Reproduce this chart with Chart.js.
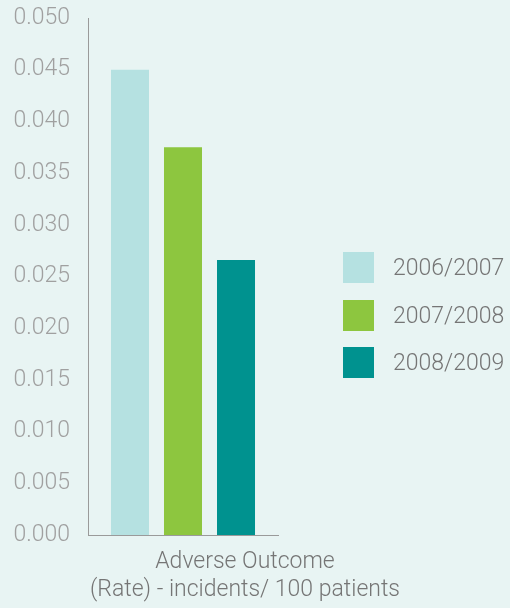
<!DOCTYPE html>
<html>
<head>
<meta charset="utf-8">
<script src="https://cdn.jsdelivr.net/npm/chart.js@4"></script>
<style>
  html, body { margin: 0; padding: 0; }
  body { width: 510px; height: 608px; background: #e8f4f3; position: relative; overflow: hidden;
         font-family: Roboto, "Open Sans", sans-serif; font-weight: 300; }
  #wrap { position: absolute; left: 0; top: 0; width: 510px; height: 608px; }
  #legend { position: absolute; left: 343px; top: 252px; }
  .item { display: flex; align-items: center; height: 31px; margin-bottom: 16.5px; }
  .sw { width: 31px; height: 31px; margin-right: 19px; }
  .lbl { font-size: 23px; color: #757575; white-space: nowrap; }
  #xtitle { position: absolute; left: 45px; width: 400px; top: 547px; text-align: center;
            font-size: 23px; line-height: 28px; color: #757575; }
</style>
</head>
<body>
<div id="wrap"><canvas id="chart" width="510" height="608"></canvas></div>
<div id="legend"></div>
<div id="xtitle"></div>
<script>
// data
const categories = ["Adverse Outcome"];
const xTitleLines = ["Adverse Outcome", "(Rate) - incidents/ 100 patients"];
const seriesNames = ["2006/2007", "2007/2008", "2008/2009"];
const seriesValues = [[0.045], [0.0375], [0.0266]];
const seriesColors = ["#b5e1e1", "#8dc63f", "#00928f"];
const yMin = 0, yMax = 0.05, yStep = 0.005;

const datasets = seriesNames.map((name, i) => ({
  label: name,
  data: seriesValues[i],
  backgroundColor: seriesColors[i],
  borderWidth: 0,
  categoryPercentage: 0.837,
  barPercentage: 0.717
}));

new Chart(document.getElementById('chart'), {
  type: 'bar',
  data: { labels: categories, datasets },
  options: {
    responsive: false,
    animation: false,
    layout: { padding: { left: 0, right: 232, top: 18, bottom: 73 } },
    plugins: { legend: { display: false }, tooltip: { enabled: false } },
    scales: {
      x: {
        grid: { display: false, drawTicks: false },
        border: { display: true, color: '#9a9a9a', width: 1 },
        ticks: { display: false }
      },
      y: {
        min: yMin, max: yMax,
        afterFit: s => { s.width = 88; s.paddingTop = 0; s.paddingBottom = 0; },
        grid: { display: false, drawTicks: false },
        border: { display: true, color: '#9a9a9a', width: 1 },
        ticks: {
          stepSize: yStep,
          padding: 18,
          color: '#a0a0a0',
          font: { family: 'Roboto', weight: 300, size: 23 },
          callback: v => Number(v).toFixed(3)
        }
      }
    }
  }
});

// legend + axis title as page text
const legend = document.getElementById('legend');
seriesNames.forEach((name, i) => {
  const it = document.createElement('div');
  it.className = 'item';
  it.innerHTML = `<div class="sw" style="background:${seriesColors[i]}"></div><span class="lbl">${name}</span>`;
  legend.appendChild(it);
});
document.getElementById('xtitle').innerHTML = xTitleLines.join('<br>');
</script>
</body>
</html>
